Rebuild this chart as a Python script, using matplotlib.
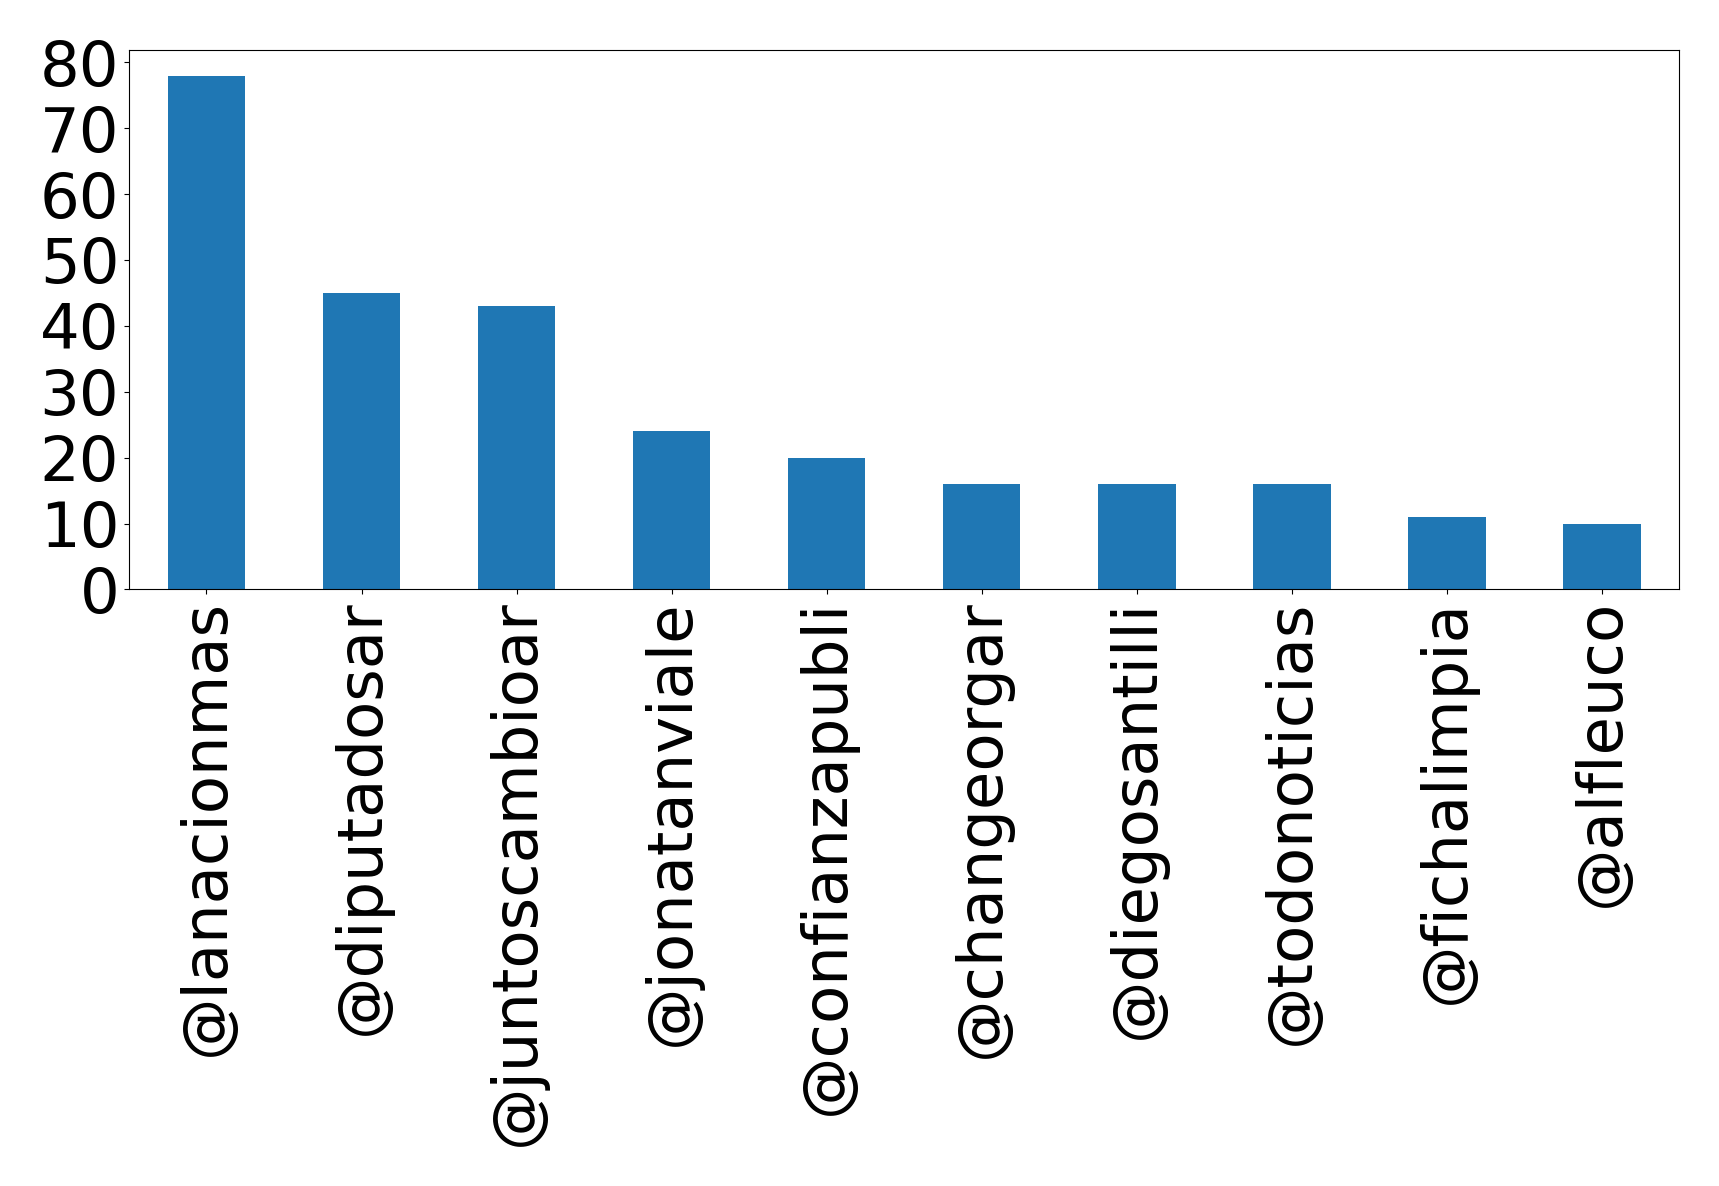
import matplotlib
matplotlib.use("Agg")
import matplotlib.pyplot as plt

users = ['@lanacionmas', '@diputadosar', '@juntoscambioar', '@jonatanviale',
         '@confianzapubli', '@changeorgar', '@diegosantilli', '@todonoticias',
         '@fichalimpia', '@alfleuco']
counts = [78, 45, 43, 24, 20, 16, 16, 16, 11, 10]

fig, ax = plt.subplots(figsize=(17.19, 11.86), dpi=100)
x = range(len(users))
ax.bar(x, counts, width=0.5, color='#1f77b4')
ax.set_xlim(-0.5, len(users) - 0.5)
ax.set_xticks(list(x))
ax.set_xticklabels(users, rotation=90, fontsize=45)
ax.tick_params(axis='y', labelsize=45)
ax.set_yticks(range(0, 81, 10))

plt.subplots_adjust(left=0.075, right=0.977, top=0.958, bottom=0.503)
plt.savefig('out.png')
